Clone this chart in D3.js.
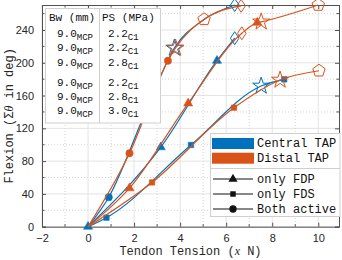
<!DOCTYPE html>
<html><head><meta charset="utf-8">
<script src="https://cdn.jsdelivr.net/npm/d3@7"></script>
<style>body{margin:0;background:#fff}svg{display:block}</style>
</head><body>
<svg id="c" width="342" height="260"></svg>
<script>
// ---------- data ----------
const xTicks = [-2, 0, 2, 4, 6, 8, 10];
const yTicks = [0, 40, 80, 120, 160, 200, 240];
const xMinor = [-1, 1, 3, 5, 7, 9];
const yMinor = [20, 60, 100, 140, 180, 220, 260];
const tapNames = ["Central TAP", "Distal TAP"];
const tapColors = ["#0072BD", "#D95319"];
const gripNames = ["only FDP", "only FDS", "Both active"];
const gripMarkers = ["t", "s", "c"];

// Central TAP
const cFDP_x = [0, 3.16, 5.6, 6.37];
const cFDP_y = [0, 97, 202.5, 230];
const cFDP_m = ["t", "t", "t", "diam"];
const cFDS_x = [0, 0.8, 4.47, 7.52, 8.52];
const cFDS_y = [0, 11, 99.7, 171.7, 179.8];
const cFDS_m = ["", "s", "s", "star", "s"];
const cBoth_x = [0, 0.9, 2.6, 3.75, 5.0, 6.37];
const cBoth_y = [0, 36, 147, 218, 252, 270.5];
const cBoth_m = ["", "c", "c", "star", "", "diam"];
// Distal TAP
const dFDP_x = [0, 1.8, 4.35, 6.68, 7.35, 7.52, 10.0];
const dFDP_y = [0, 47, 150.5, 236, 249, 250, 270.5];
const dFDP_m = ["", "t", "t", "diam", "t", "star", "pent"];
const dFDS_x = [0, 2.78, 6.34, 8.34, 10.03];
const dFDS_y = [0, 54, 145.2, 179, 190.3];
const dFDS_m = ["", "s", "s", "star", "pent"];
const dBoth_x = [0, 1.8, 3.47, 3.8, 5.04, 6.65];
const dBoth_y = [0, 89.6, 202.5, 218, 253, 269.5];
const dBoth_m = ["", "c", "c", "star", "pent", "diam"];

// table
const tableHead = ["Bw (mm)", "PS (MPa)"];
const tableBw = ["9.0", "9.0", "9.0", "9.0", "9.0", "9.0"];
const tablePS = ["2.2", "2.2", "2.8", "2.2", "2.8", "3.0"];

// ---------- chart ----------
const svg = d3.select("#c");
const L = 42, R = 339, T = 5, B = 226.7;
const x = d3.scaleLinear().domain([-2, 10.9]).range([L, R]);
const y = d3.scaleLinear().domain([0, 270.5]).range([B, T]);
const mono = "'Liberation Mono', 'DejaVu Sans Mono', monospace";
const sans = "'Liberation Sans', Arial, sans-serif";

// grid
const g = svg.append("g");
g.selectAll(".gx").data(xTicks).join("line")
  .attr("x1", d => x(d)).attr("x2", d => x(d)).attr("y1", T).attr("y2", B)
  .attr("stroke", "#e3e3e3").attr("stroke-width", 1);
g.selectAll(".gy").data(yTicks).join("line")
  .attr("x1", L).attr("x2", R).attr("y1", d => y(d)).attr("y2", d => y(d))
  .attr("stroke", "#e3e3e3").attr("stroke-width", 1);
g.selectAll(".mx").data(xMinor).join("line")
  .attr("x1", d => x(d)).attr("x2", d => x(d)).attr("y1", T).attr("y2", B)
  .attr("stroke", "#d4d4d4").attr("stroke-width", 1).attr("stroke-dasharray", "1,2");
g.selectAll(".my").data(yMinor).join("line")
  .attr("x1", L).attr("x2", R).attr("y1", d => y(d)).attr("y2", d => y(d))
  .attr("stroke", "#d4d4d4").attr("stroke-width", 1).attr("stroke-dasharray", "1,2");

// axes (inside ticks, box)
const axCol = "#505050";
const axB = d3.axisBottom(x).tickValues(xTicks).tickSize(-4).tickPadding(8).tickFormat(d => d < 0 ? "\u2212" + Math.abs(d) : d);
const axL = d3.axisLeft(y).tickValues(yTicks).tickSize(-4).tickPadding(8);
const axT = d3.axisTop(x).tickValues(xTicks).tickSize(-4).tickFormat("");
const axR = d3.axisRight(y).tickValues(yTicks).tickSize(-4).tickFormat("");
function styleAxis(sel) {
  sel.select(".domain").attr("stroke", axCol);
  sel.selectAll(".tick line").attr("stroke", axCol);
  sel.selectAll("text").attr("fill", "#262626").attr("font-family", sans).attr("font-size", 11);
}
svg.append("g").attr("transform", `translate(0,${B})`).call(axB).call(styleAxis);
svg.append("g").attr("transform", `translate(${L},0)`).call(axL).call(styleAxis);
svg.append("g").attr("transform", `translate(0,${T})`).call(axT).call(styleAxis);
svg.append("g").attr("transform", `translate(${R},0)`).call(axR).call(styleAxis);
// minor ticks
const mt = svg.append("g").attr("stroke", axCol);
xMinor.forEach(v => {
  mt.append("line").attr("x1", x(v)).attr("x2", x(v)).attr("y1", B).attr("y2", B - 2.5);
  mt.append("line").attr("x1", x(v)).attr("x2", x(v)).attr("y1", T).attr("y2", T + 2.5);
});
yMinor.forEach(v => {
  mt.append("line").attr("y1", y(v)).attr("y2", y(v)).attr("x1", L).attr("x2", L + 2.5);
  mt.append("line").attr("y1", y(v)).attr("y2", y(v)).attr("x1", R).attr("x2", R - 2.5);
});

// axis labels
svg.append("text").attr("x", (L + R) / 2).attr("y", 255).attr("text-anchor", "middle")
  .attr("font-family", mono).attr("font-size", 12).attr("fill", "#262626")
  .html('Tendon Tension (<tspan font-style="italic" font-family="\'Liberation Serif\', serif">x</tspan> N)');
svg.append("text").attr("transform", `translate(13,${(T + B) / 2}) rotate(-90)`).attr("text-anchor", "middle")
  .attr("font-family", mono).attr("font-size", 12).attr("fill", "#262626")
  .html('Flexion (\u03A3<tspan font-style="italic" font-family="\'Liberation Serif\', serif">\u03B8</tspan> in deg)');

// marker symbols
function markerPath(code) {
  switch (code) {
    case "t": return d3.symbol(d3.symbolTriangle, 36)();
    case "s": return d3.symbol(d3.symbolSquare, 30)();
    case "c": return d3.symbol(d3.symbolCircle, 42)();
    case "star": return d3.symbol(d3.symbolStar, 90)();
    case "pent": {
      const r = 6.5, pts = [];
      for (let i = 0; i < 5; i++) { const a = -Math.PI / 2 + i * 2 * Math.PI / 5; pts.push([r * Math.cos(a), r * Math.sin(a)]); }
      return "M" + pts.map(p => p.join(",")).join("L") + "Z";
    }
    case "diam": return "M0,-6.5L4.3,0L0,6.5L-4.3,0Z";
  }
  return null;
}
const hollow = new Set(["star", "pent", "diam"]);

const line = d3.line().x(d => x(d[0])).y(d => y(d[1])).curve(d3.curveMonotoneX);
const seriesList = [
  [cFDP_x, cFDP_y, cFDP_m, 0], [cFDS_x, cFDS_y, cFDS_m, 0], [cBoth_x, cBoth_y, cBoth_m, 0],
  [dFDP_x, dFDP_y, dFDP_m, 1], [dFDS_x, dFDS_y, dFDS_m, 1], [dBoth_x, dBoth_y, dBoth_m, 1]
];
const plot = svg.append("g");
seriesList.forEach(([xs, ys, ms, ci]) => {
  const pts = xs.map((v, i) => [v, ys[i], ms[i]]);
  const col = tapColors[ci];
  plot.append("path").attr("d", line(pts)).attr("fill", "none").attr("stroke", col).attr("stroke-width", 1.2);
  plot.selectAll(null).data(pts.filter(p => p[2])).join("path")
    .attr("transform", p => `translate(${x(p[0])},${y(p[1])})`)
    .attr("d", p => markerPath(p[2]))
    .attr("fill", p => hollow.has(p[2]) ? "none" : col)
    .attr("stroke", col).attr("stroke-width", p => hollow.has(p[2]) ? 1 : 0.5);
});

// table inset
const tb = svg.append("g");
tb.append("rect").attr("x", 45.5).attr("y", 8.5).attr("width", 115).attr("height", 114.5)
  .attr("fill", "#fff").attr("stroke", "#cfcfcf");
tb.append("line").attr("x1", 99.5).attr("x2", 99.5).attr("y1", 8.5).attr("y2", 123).attr("stroke", "#cfcfcf");
tb.append("text").attr("x", 49).attr("y", 21).attr("font-family", mono).attr("font-size", 11).attr("fill", "#111").text(tableHead[0]);
tb.append("text").attr("x", 102).attr("y", 21).attr("font-family", mono).attr("font-size", 11).attr("fill", "#111").text(tableHead[1]);
const rowY = [37, 51, 66, 86, 100, 114];
tableBw.forEach((v, i) => {
  const t = tb.append("text").attr("x", 57).attr("y", rowY[i]).attr("font-family", mono).attr("font-size", 11).attr("fill", "#111");
  t.append("tspan").text(v);
  t.append("tspan").attr("dy", 3).attr("font-size", 9).text("MCP");
  const u = tb.append("text").attr("x", 108).attr("y", rowY[i]).attr("font-family", mono).attr("font-size", 11).attr("fill", "#111");
  u.append("tspan").text(tablePS[i]);
  u.append("tspan").attr("dy", 3).attr("font-size", 9).text("C1");
});

// legend
const lg = svg.append("g");
lg.append("rect").attr("x", 210.5).attr("y", 133.5).attr("width", 129.5).attr("height", 83).attr("fill", "#fff").attr("stroke", "#cfcfcf");
lg.append("line").attr("x1", 210.5).attr("x2", 340).attr("y1", 168.5).attr("y2", 168.5).attr("stroke", "#cfcfcf");
tapNames.forEach((n, i) => {
  const yy = 138 + i * 14.7;
  lg.append("rect").attr("x", 212).attr("y", yy).attr("width", 42).attr("height", 11).attr("fill", tapColors[i]);
  lg.append("text").attr("x", 257).attr("y", yy + 9).attr("font-family", mono).attr("font-size", 12).attr("fill", "#111").text(n);
});
gripNames.forEach((n, i) => {
  const yy = 179 + i * 15;
  lg.append("line").attr("x1", 213).attr("x2", 253).attr("y1", yy).attr("y2", yy).attr("stroke", "#111").attr("stroke-width", 1);
  lg.append("path").attr("transform", `translate(233,${yy})`).attr("d", markerPath(gripMarkers[i])).attr("fill", "#111");
  lg.append("text").attr("x", 257).attr("y", yy + 4).attr("font-family", mono).attr("font-size", 12).attr("fill", "#111").text(n);
});
</script>
</body></html>
